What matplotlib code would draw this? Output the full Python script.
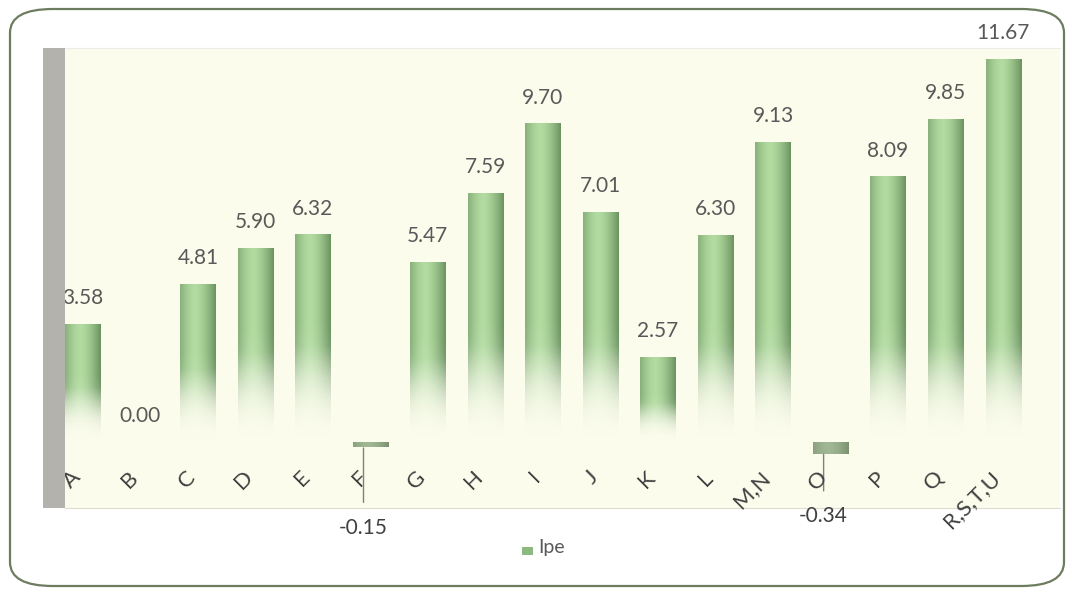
import numpy as np
import matplotlib.pyplot as plt
from matplotlib.patches import FancyBboxPatch, Rectangle

categories = ["A", "B", "C", "D", "E", "F", "G", "H", "I", "J", "K", "L",
              "M,N", "O", "P", "Q", "R,S,T,U"]
ipe = [3.58, 0.00, 4.81, 5.90, 6.32, -0.15, 5.47, 7.59, 9.70, 7.01, 2.57,
       6.30, 9.13, -0.34, 8.09, 9.85, 11.67]
series_name = "Ipe"

plt.rcParams['font.family'] = ['Lato', 'DejaVu Sans']

W, H = 1074, 595
fig = plt.figure(figsize=(W / 100, H / 100), dpi=100)
fig.patch.set_facecolor('white')

# rounded chart border
fig.add_artist(FancyBboxPatch((10 / W, 9 / H), 1054 / W, 577 / H,
                              boxstyle="round,pad=0,rounding_size=0.04",
                              transform=fig.transFigure, fc='white',
                              ec='#6d7c5f', lw=1.6, zorder=0))
# grey side wall
fig.add_artist(Rectangle((43 / W, 1 - 508 / H), 22 / W, 460 / H,
                         transform=fig.transFigure, fc='#b4b2ac', ec='none',
                         zorder=1))

ax = fig.add_axes([65 / W, 1 - 508 / H, 995 / W, 460 / H])
ax.set_facecolor('#fcfcec')
ax.set_xlim(-0.31, 16.99)
ax.set_ylim(-2.0, 12.03)
for s in ['left', 'right']:
    ax.spines[s].set_visible(False)
ax.spines['bottom'].set_color('#dcdcd0')
ax.spines['top'].set_color('#ececec')
ax.set_xticks([])
ax.set_yticks([])

dark = np.array([0.42, 0.58, 0.38])
light = np.array([0.70, 0.86, 0.63])
width = 0.61

# horizontal shading across a bar
t = np.linspace(0, 1, 40)
shade = 1 - np.abs(2 * (t - 0.42) / 1.16) ** 1.6
shade = np.clip(shade, 0, 1)
row = dark[None, :] + (light - dark)[None, :] * shade[:, None]

for i, v in enumerate(ipe):
    if v == 0:
        continue
    n = 300
    img = np.zeros((n, len(t), 4))
    img[:, :, :3] = row[None, :, :]
    if v > 0:
        # soft fade toward the baseline; row 0 is the top of the bar
        y = np.linspace(v, 0, n)
        fade_len = min(0.6 * v, 3.8)
        s = np.clip(y / fade_len, 0, 1)
        a = s * s * (3 - 2 * s)
        whiten = (1 - a)[:, None, None] * 0.6
        img[:, :, :3] = img[:, :, :3] * (1 - whiten) + whiten
        img[:, :, 3] = np.clip(a * 1.15, 0, 1)[:, None]
        ax.imshow(img, extent=(i - width / 2, i + width / 2, 0, v),
                  aspect='auto', interpolation='bilinear', zorder=2)
    else:
        img[:, :, :3] = img[:, :, :3] * 0.55 + np.array([0.55, 0.55, 0.52]) * 0.45
        img[:, :, 3] = 1
        ax.imshow(img, extent=(i - width / 2, i + width / 2, v, 0),
                  aspect='auto', interpolation='bilinear', zorder=2)

lab_color = '#595959'
neg_label_y = {5: -2.6, 13: -2.25}
for i, v in enumerate(ipe):
    if v >= 0:
        ax.annotate(f"{v:.2f}", (i, v), xytext=(0, 12), textcoords='offset points',
                    ha='center', va='bottom', fontsize=15, color=lab_color)
    else:
        ax.annotate(f"{v:.2f}", xy=(i - 0.12, v - 0.02),
                    xytext=(i - 0.12, neg_label_y[i]),
                    ha='center', va='center', fontsize=15, color='#404040',
                    annotation_clip=False,
                    arrowprops=dict(arrowstyle='-', color='#7f7f7f', lw=1,
                                    shrinkA=9, shrinkB=0))

for i, c in enumerate(categories):
    ax.text(i - 0.1, -0.97, c, rotation=45, rotation_mode='anchor',
            ha='right', va='center', fontsize=16, color='#404040',
            clip_on=False)

# legend
fig.add_artist(Rectangle((522 / W, 1 - 555 / H), 11 / W, 8 / H,
                         transform=fig.transFigure, fc='#8db87e', ec='none'))
fig.text(538 / W, 1 - 548 / H, series_name, ha='left', va='center',
         fontsize=14, color='#595959')

fig.savefig('out.png', dpi=100)
